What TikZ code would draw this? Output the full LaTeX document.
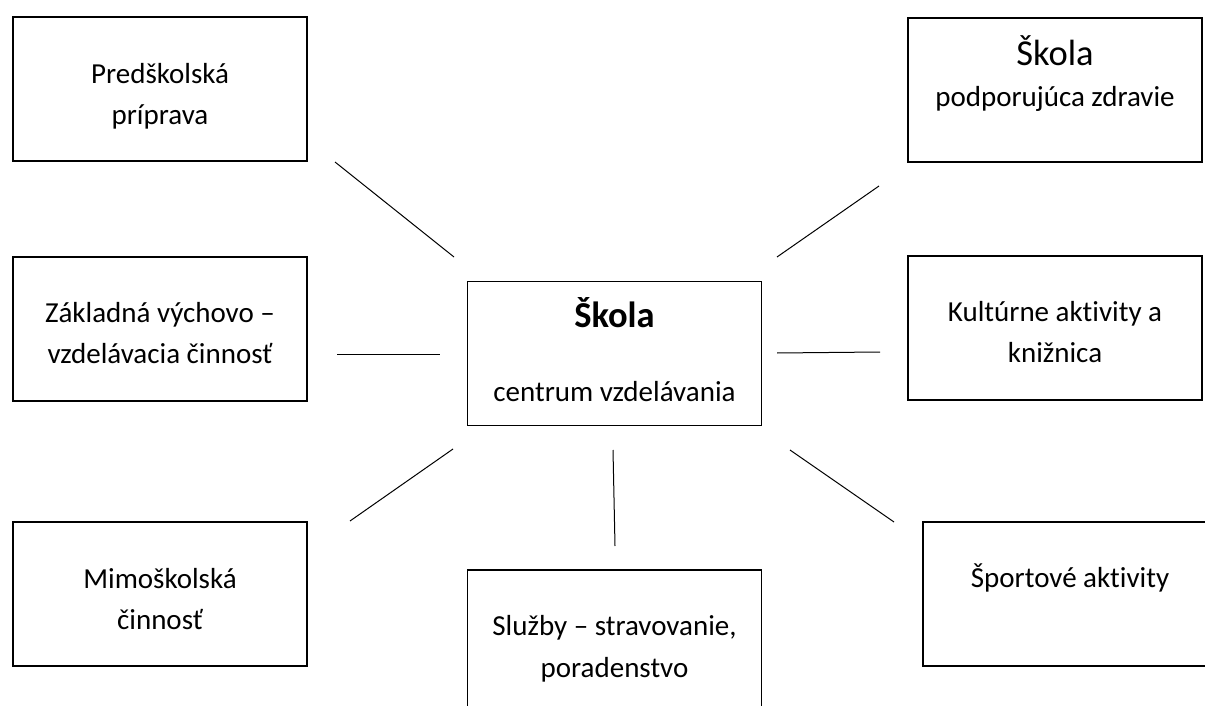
\documentclass[tikz,border=0pt]{standalone}
\usepackage{fontspec}
\setmainfont{Carlito}[Ligatures={TeX,NoCommon}]

\newcommand{\bigtitle}{\fontsize{36.5}{44}\selectfont}
\newcommand{\stack}[1]{\begin{tabular}[t]{@{}c@{}}#1\end{tabular}}

\begin{document}
\begin{tikzpicture}[x=1pt, y=-1pt]
  \tikzstyle{box} = [rectangle, draw, line width=1.8pt, minimum width=294pt, minimum height=144pt, inner sep=0pt]
  \tikzstyle{txt} = [anchor=base, inner sep=0pt, font=\fontsize{29}{41}\selectfont]
  \tikzstyle{spoke} = [line width=1pt]
  \clip (0,0) rectangle (1205,706);

  % Boxes
  \node[box] (pp) at (160,89) {};
  \node[box] (zakl) at (160,329) {};
  \node[box] (mimo) at (160,594) {};
  \node[box] (zdr) at (1055,90) {};
  \node[box] (kult) at (1055,328) {};
  \node[box] (sport) at (1070,594) {};
  \node[box] (skola) at (614.5,353.5) {};
  \node[box] (sluz) at (614.5,642) {};

  % Texts
  \node[txt] (pp-t) at ([yshift=-67pt]pp.north) {\stack{Predškolská\\príprava}};
  \node[txt] (zdr-t) at ([yshift=-48pt]zdr.north) {\stack{{\bigtitle Škola}\\podporujúca zdravie}};
  \node[txt] (zakl-t) at ([yshift=-66pt]zakl.north) {\stack{Základná výchovo –\\vzdelávacia činnosť}};
  \node[txt] (skola-t) at ([yshift=-47pt]skola.north) {\stack{{\bigtitle\bfseries Škola}\\[33pt]centrum vzdelávania}};
  \node[txt] (kult-t) at ([yshift=-66pt]kult.north) {\stack{Kultúrne aktivity a\\knižnica}};
  \node[txt] (mimo-t) at ([yshift=-67pt]mimo.north) {\stack{Mimoškolská\\činnosť}};
  \node[txt] (sluz-t) at ([yshift=-66.5pt]sluz.north) {\stack{Služby – stravovanie,\\[1pt]poradenstvo}};
  \node[txt] (sport-t) at ([yshift=-66.5pt]sport.north) {Športové aktivity};

  % Spokes round the centre
  \coordinate (a1) at (335,162); \coordinate (a2) at (454,257);
  \coordinate (b1) at (777,257); \coordinate (b2) at (879,186);
  \coordinate (c1) at (337,354); \coordinate (c2) at (440,354);
  \coordinate (d1) at (777,353); \coordinate (d2) at (880,352);
  \coordinate (e1) at (350,521); \coordinate (e2) at (453,449);
  \coordinate (f1) at (613,450); \coordinate (f2) at (615,546);
  \coordinate (g1) at (790,450); \coordinate (g2) at (894,522);
  \foreach \s in {a,...,g}
    \draw[spoke] (\s1) -- (\s2);
\end{tikzpicture}
\end{document}
